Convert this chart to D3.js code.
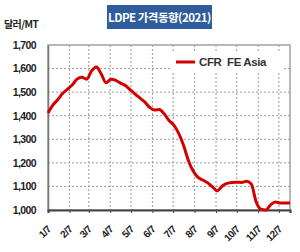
<!DOCTYPE html>
<html>
<head>
<meta charset="utf-8">
<script src="https://cdn.jsdelivr.net/npm/d3@7"></script>
<style>
    body { margin: 0; background: #fff; }
    svg { display: block; font-family: "Liberation Sans", Arial, sans-serif; }
</style>
</head>
<body>
<div id="chart"></div>
<script>
// weekly LDPE price, CFR FE Asia ($/MT)
var weeks = [
    "2021-01-07","2021-01-14","2021-01-21","2021-01-28",
    "2021-02-04","2021-02-11","2021-02-18","2021-02-25",
    "2021-03-04","2021-03-11","2021-03-18","2021-03-25",
    "2021-04-01","2021-04-08","2021-04-15","2021-04-22","2021-04-29",
    "2021-05-06","2021-05-13","2021-05-20","2021-05-27",
    "2021-06-03","2021-06-10","2021-06-17","2021-06-24",
    "2021-07-01","2021-07-08","2021-07-15","2021-07-22","2021-07-29",
    "2021-08-05","2021-08-12","2021-08-19","2021-08-26",
    "2021-09-02","2021-09-09","2021-09-16","2021-09-23","2021-09-30",
    "2021-10-07","2021-10-14","2021-10-21","2021-10-28",
    "2021-11-04","2021-11-11","2021-11-18","2021-11-25",
    "2021-12-02","2021-12-09","2021-12-16","2021-12-23"
];
var prices = [
    1412, 1445, 1468, 1494,
    1512, 1530, 1555, 1563,
    1555, 1590, 1607, 1577,
    1540, 1555, 1550, 1538, 1528,
    1510, 1492, 1475, 1458,
    1435, 1424, 1426, 1408,
    1380, 1360, 1325, 1275, 1210,
    1165, 1138, 1127, 1115,
    1098, 1081, 1102, 1113, 1117,
    1118, 1117, 1122, 1110,
    1035, 1003, 1000, 1022,
    1034, 1030, 1030, 1030
];
var tickDates  = ["2021-01-07","2021-02-07","2021-03-07","2021-04-07","2021-05-07","2021-06-07",
                  "2021-07-07","2021-08-07","2021-09-07","2021-10-07","2021-11-07","2021-12-07"];
var tickLabels = ["1/7","2/7","3/7","4/7","5/7","6/7","7/7","8/7","9/7","10/7","11/7","12/7"];
var yTicks = [1000, 1100, 1200, 1300, 1400, 1500, 1600, 1700];

var width = 300, height = 252;
var margin = {top: 45, right: 10, bottom: 42, left: 48};
var parse = d3.timeParse("%Y-%m-%d");

var data = weeks.map(function(d, i) { return {date: parse(d), value: prices[i]}; });

var svg = d3.select("#chart").append("svg")
    .attr("width", width)
    .attr("height", height);

var x = d3.scaleTime()
    .domain([parse("2021-01-07"), parse("2021-12-23")])
    .range([margin.left, width - margin.right]);

var y = d3.scaleLinear()
    .domain([1000, 1700])
    .range([height - margin.bottom, margin.top]);

//Gridlines
svg.append("g").selectAll("line.h")
    .data(yTicks.slice(1, -1))
    .enter().append("line")
    .attr("x1", x.range()[0]).attr("x2", x.range()[1])
    .attr("y1", function(d) { return y(d); })
    .attr("y2", function(d) { return y(d); })
    .attr("stroke", "#9a9a9a")
    .attr("stroke-dasharray", "2,2");

svg.append("g").selectAll("line.v")
    .data(tickDates.slice(1))
    .enter().append("line")
    .attr("x1", function(d) { return x(parse(d)); })
    .attr("x2", function(d) { return x(parse(d)); })
    .attr("y1", y.range()[1]).attr("y2", y.range()[0])
    .attr("stroke", "#9a9a9a")
    .attr("stroke-dasharray", "2,2");

//Plot frame
svg.append("rect")
    .attr("x", x.range()[0]).attr("y", y.range()[1])
    .attr("width", x.range()[1] - x.range()[0])
    .attr("height", y.range()[0] - y.range()[1])
    .attr("fill", "none")
    .attr("stroke", "#a0a0a0")
    .attr("stroke-width", 1.5);

//Left axis
var yAxis = d3.axisLeft(y)
    .tickValues(yTicks)
    .tickSize(0)
    .tickPadding(12)
    .tickFormat(d3.format(","));

var gy = svg.append("g")
    .attr("transform", "translate(" + margin.left + ",0)")
    .call(yAxis);
gy.select(".domain").attr("stroke", "#777").attr("stroke-width", 1.5);
gy.selectAll("text")
    .attr("fill", "#222")
    .style("font-size", "10.5px")
    .style("font-weight", "bold")
    .style("letter-spacing", "-0.6px");

//Bottom axis
var xAxis = d3.axisBottom(x)
    .tickValues(tickDates.map(parse))
    .tickSize(3)
    .tickFormat(function(d, i) { return tickLabels[i]; });

var gx = svg.append("g")
    .attr("transform", "translate(0," + y.range()[0] + ")")
    .call(xAxis);
gx.select(".domain").attr("stroke", "#444").attr("stroke-width", 2.2);
gx.selectAll(".tick line").attr("stroke", "#444");
gx.selectAll("text")
    .attr("fill", "#222")
    .style("font-size", "10px")
    .style("font-weight", "bold")
    .style("letter-spacing", "-0.6px")
    .style("text-anchor", "end")
    .attr("y", 0)
    .attr("dy", 0)
    .attr("transform", "translate(3,20) rotate(-45)");

//Legend
svg.append("rect")
    .attr("x", 172).attr("y", 53)
    .attr("width", 110).attr("height", 18)
    .attr("fill", "#fff");
svg.append("line")
    .attr("x1", 176).attr("x2", 195)
    .attr("y1", 62).attr("y2", 62)
    .attr("stroke", "#d40000")
    .attr("stroke-width", 3);
svg.append("text")
    .attr("x", 199).attr("y", 66)
    .attr("fill", "#333")
    .style("font-size", "11.5px")
    .style("font-weight", "bold")
    .style("letter-spacing", "-0.4px")
    .attr("xml:space", "preserve")
    .text("CFR  FE Asia");

//Price line
var line = d3.line()
    .x(function(d) { return x(d.date); })
    .y(function(d) { return y(d.value); })
    .curve(d3.curveMonotoneX);

svg.append("path")
    .attr("d", line(data))
    .attr("fill", "none")
    .attr("stroke", "#d40000")
    .attr("stroke-width", 3)
    .attr("stroke-linejoin", "round");

//Title box
svg.append("rect")
    .attr("x", 107).attr("y", 5)
    .attr("width", 105).attr("height", 24)
    .attr("fill", "#2f5c9b");
svg.append("text")
    .attr("x", 159.5).attr("y", 21.5)
    .attr("text-anchor", "middle")
    .attr("fill", "#fff")
    .style("font-family", "'Noto Sans CJK KR', sans-serif")
    .style("font-size", "11.5px")
    .style("font-weight", "bold")
    .style("letter-spacing", "-0.5px")
    .text("LDPE 가격동향(2021)");

//Unit label
svg.append("text")
    .attr("x", 4).attr("y", 28)
    .attr("fill", "#222")
    .style("font-family", "'Noto Sans CJK KR', sans-serif")
    .style("font-size", "10px")
    .style("font-weight", "bold")
    .style("letter-spacing", "-0.6px")
    .text("달러/MT");
</script>
</body>
</html>
